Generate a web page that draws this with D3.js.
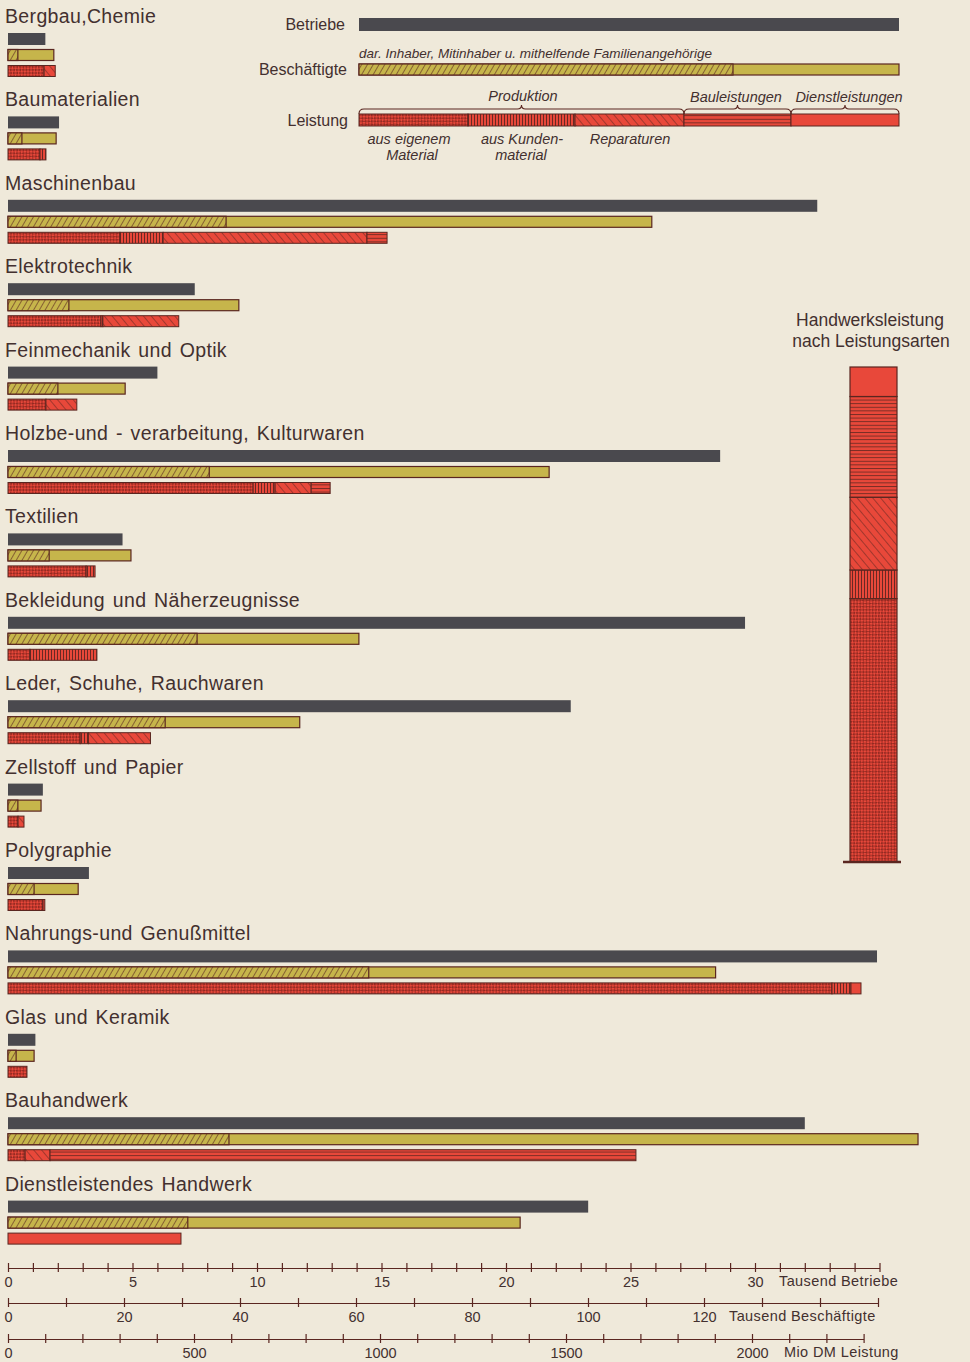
<!DOCTYPE html>
<html><head><meta charset="utf-8">
<script src="https://cdn.jsdelivr.net/npm/d3@7"></script>
<style>
html,body{margin:0;padding:0;background:#efe9da;}
svg{display:block;}
</style></head>
<body>
<svg id="chart" width="970" height="1362"></svg>
<script>
// ---------- data ----------
const categories = ["Bergbau,Chemie","Baumaterialien","Maschinenbau","Elektrotechnik","Feinmechanik und Optik",
  "Holzbe-und - verarbeitung, Kulturwaren","Textilien","Bekleidung und Näherzeugnisse","Leder, Schuhe, Rauchwaren",
  "Zellstoff und Papier","Polygraphie","Nahrungs-und Genußmittel","Glas und Keramik","Bauhandwerk","Dienstleistendes Handwerk"];
const betriebe       = [1.5, 2.05, 32.5, 7.5, 6.0, 28.6, 4.6, 29.6, 22.6, 1.4, 3.25, 34.9, 1.1, 32.0, 23.3]; // Tausend
const beschaeftigte  = [7.9, 8.3, 111, 39.8, 20.2, 93.3, 21.2, 60.5, 50.3, 5.7, 12.1, 122, 4.5, 156.9, 88.3]; // Tausend
const inhaber        = [1.7, 2.4, 37.6, 10.5, 8.6, 34.7, 7.1, 32.6, 27.1, 1.7, 4.5, 62.2, 1.4, 38.1, 31.0];
const eigenMaterial  = [97, 86, 301, 250, 102, 659, 210, 59, 194, 27, 94, 2215, 51, 46, 0];   // Mio DM
const kundenMaterial = [0, 16, 116, 5, 0, 59, 24, 180, 22, 0, 5, 51, 0, 0, 0];
const reparaturen    = [30, 0, 548, 204, 83, 97, 0, 0, 167, 16, 0, 0, 0, 67, 0];
const bauleistungen  = [0, 0, 54, 0, 0, 51, 0, 0, 0, 0, 0, 0, 0, 1575, 0];
const dienstleistungen = [0, 0, 0, 0, 0, 0, 0, 0, 0, 0, 0, 27, 0, 0, 465];
const leistungsarten = ["eigen","kunden","rep","bau","dienst"];
const betriebeTicks = d3.range(0, 36, 1), betriebeLabels = [0,5,10,15,20,25,30];
const beschTicks = d3.range(0, 151, 10), beschLabels = [0,20,40,60,80,100,120];
const leistTicks = d3.range(0, 2301, 100), leistLabels = [0,500,1000,1500,2000];

// ---------- styles ----------
const C = {bg:"#efe9da", dark:"#4a494e", olive:"#c6b54b", red:"#e8483a", line:"#5a2620", text:"#43302f"};
const FONT = "'Liberation Sans', Arial, sans-serif";

const svg = d3.select("#chart");
svg.append("rect").attr("width",970).attr("height",1362).attr("fill",C.bg);
const defs = svg.append("defs");

function pat(id, w, h, build, tr){
  const p = defs.append("pattern").attr("id",id).attr("patternUnits","userSpaceOnUse").attr("width",w).attr("height",h);
  if(tr) p.attr("patternTransform",tr);
  build(p); return `url(#${id})`;
}
const fillOliveHatch = pat("oh",5,5,p=>{
  p.append("rect").attr("width",5).attr("height",5).attr("fill",C.olive);
  p.append("line").attr("x1",0).attr("y1",0).attr("x2",0).attr("y2",5).attr("stroke",C.line).attr("stroke-width",1.2);
},"rotate(30)");
const fillCross = pat("cr",4.4,4.4,p=>{
  p.append("rect").attr("width",4.4).attr("height",4.4).attr("fill","#962a22");
  p.append("rect").attr("width",2.2).attr("height",2.2).attr("fill",C.red);
  p.append("rect").attr("x",2.2).attr("y",2.2).attr("width",2.2).attr("height",2.2).attr("fill",C.red);
},"rotate(45)");
const fillVert = pat("ve",3,4,p=>{
  p.append("rect").attr("width",3).attr("height",4).attr("fill",C.red);
  p.append("line").attr("x1",0.5).attr("y1",0).attr("x2",0.5).attr("y2",4).attr("stroke",C.line).attr("stroke-width",0.9);
});
const fillDiag = pat("di",6,6,p=>{
  p.append("rect").attr("width",6).attr("height",6).attr("fill",C.red);
  p.append("line").attr("x1",0).attr("y1",0).attr("x2",0).attr("y2",6).attr("stroke",C.line).attr("stroke-width",1);
},"rotate(-40)");
const fillHoriz = pat("ho",4,3.6,p=>{
  p.append("rect").attr("width",4).attr("height",3.6).attr("fill",C.red);
  p.append("line").attr("x1",0).attr("y1",0.5).attr("x2",4).attr("y2",0.5).attr("stroke",C.line).attr("stroke-width",0.8);
});
const segFill = {eigen:fillCross, kunden:fillVert, rep:fillDiag, bau:fillHoriz, dienst:C.red};

// ---------- scales ----------
const X0 = 8;
const xB = d3.scaleLinear().domain([0,35]).range([X0, X0+35*24.9]);
const xE = d3.scaleLinear().domain([0,150]).range([X0, X0+150*5.8]);
const xL = d3.scaleLinear().domain([0,2300]).range([X0, X0+2300*0.372]);
const yCat = d3.scaleLinear().domain([0,1]).range([17, 17+83.4]);

const rows = categories.map((c,i)=>({
  name:c, b:betriebe[i], e:beschaeftigte[i], inh:inhaber[i],
  segs:[["eigen",eigenMaterial[i]],["kunden",kundenMaterial[i]],["rep",reparaturen[i]],["bau",bauleistungen[i]],["dienst",dienstleistungen[i]]]
}));

const g = svg.append("g");
const cat = g.selectAll("g.cat").data(rows).join("g").attr("class","cat")
  .attr("transform",(d,i)=>`translate(0,${yCat(i)})`);

cat.append("text").text(d=>d.name).attr("x",5).attr("y",6).attr("font-family",FONT)
  .attr("font-size",19.5).attr("fill",C.text).attr("letter-spacing",0.35).attr("word-spacing",2);

const BH = 11;
cat.append("rect").attr("x",X0).attr("y",22-6).attr("height",12)
  .attr("width",d=>xB(d.b)-X0).attr("fill",C.dark);
cat.append("rect").attr("x",X0).attr("y",38-BH/2).attr("height",BH)
  .attr("width",d=>xE(d.e)-X0).attr("fill",C.olive).attr("stroke",C.line).attr("stroke-width",1.2);
cat.append("rect").attr("x",X0).attr("y",38-BH/2).attr("height",BH)
  .attr("width",d=>xE(d.inh)-X0).attr("fill",fillOliveHatch).attr("stroke",C.line).attr("stroke-width",1.2);
cat.each(function(d){
  const gg = d3.select(this);
  let acc = 0;
  d.segs.forEach(([k,v])=>{
    if(v<=0) return;
    gg.append("rect").attr("x",xL(acc)).attr("y",54-BH/2).attr("height",BH)
      .attr("width",xL(acc+v)-xL(acc)).attr("fill",segFill[k]).attr("stroke",C.line).attr("stroke-width",1);
    acc += v;
  });
});

// ---------- axes ----------
function drawAxis(scale, ticks, labels, y, title, titleX){
  const ax = d3.axisBottom(scale).tickValues(ticks).tickSize(0).tickPadding(9)
    .tickFormat(v=>labels.includes(v)?String(v):"");
  const a = svg.append("g").attr("transform",`translate(0,${y})`).call(ax);
  a.select(".domain").attr("stroke",C.line).attr("stroke-width",1.2);
  a.selectAll(".tick line").attr("y1",-5).attr("y2",4).attr("stroke",C.line).attr("stroke-width",1.2);
  a.selectAll(".tick text").attr("font-family",FONT).attr("font-size",14.5).attr("fill",C.text);
  svg.append("text").text(title).attr("x",titleX).attr("y",y+18).attr("font-family",FONT)
    .attr("font-size",14.5).attr("fill",C.text).attr("letter-spacing",0.4);
}
drawAxis(xB, betriebeTicks, betriebeLabels, 1268, "Tausend Betriebe", 779);
drawAxis(xE, beschTicks, beschLabels, 1303, "Tausend Beschäftigte", 729);
drawAxis(xL, leistTicks, leistLabels, 1339, "Mio DM Leistung", 784);

// ---------- legend ----------
const lg = svg.append("g");
const LX0 = 359, LX1 = 899;
const lt = (t,x,y,opt={})=>lg.append("text").text(t).attr("x",x).attr("y",y).attr("font-family",FONT)
  .attr("font-size",opt.size||16).attr("fill",C.text).attr("text-anchor",opt.anchor||"start")
  .attr("font-style",opt.italic?"italic":"normal");
lt("Betriebe",345,30,{anchor:"end"});
lg.append("rect").attr("x",LX0).attr("y",18).attr("width",LX1-LX0).attr("height",13).attr("fill",C.dark);
lt("dar. Inhaber, Mitinhaber u. mithelfende Familienangehörige",LX0,58,{italic:true,size:13.5});
lt("Beschäftigte",347,75,{anchor:"end"});
lg.append("rect").attr("x",LX0).attr("y",64).attr("width",LX1-LX0).attr("height",11).attr("fill",C.olive).attr("stroke",C.line).attr("stroke-width",1.2);
lg.append("rect").attr("x",LX0).attr("y",64).attr("width",733-LX0).attr("height",11).attr("fill",fillOliveHatch).attr("stroke",C.line).attr("stroke-width",1.2);
lt("Leistung",348,126,{anchor:"end"});
const legSegs = [["eigen",359,468],["kunden",468,575],["rep",575,684],["bau",684,791],["dienst",791,899]];
legSegs.forEach(([k,a,b])=>lg.append("rect").attr("x",a).attr("y",114).attr("width",b-a).attr("height",12)
  .attr("fill",segFill[k]).attr("stroke",C.line).attr("stroke-width",1));
function brace(x1,x2,y){
  const m=(x1+x2)/2;
  lg.append("path").attr("d",`M${x1},${y+5} Q${x1},${y} ${x1+5},${y} L${m-4},${y} Q${m},${y} ${m},${y-4} Q${m},${y} ${m+4},${y} L${x2-5},${y} Q${x2},${y} ${x2},${y+5}`)
    .attr("fill","none").attr("stroke",C.line).attr("stroke-width",1.1);
}
brace(359,684,109); brace(684,791,109); brace(791,899,109);
lt("Produktion",523,101,{anchor:"middle",italic:true,size:14.5});
lt("Bauleistungen",736,102,{anchor:"middle",italic:true,size:14.5});
lt("Dienstleistungen",849,102,{anchor:"middle",italic:true,size:14.5});
lt("aus eigenem",409,144,{anchor:"middle",italic:true,size:14.5});
lt("Material",412,160,{anchor:"middle",italic:true,size:14.5});
lt("aus Kunden-",522,144,{anchor:"middle",italic:true,size:14.5});
lt("material",521,160,{anchor:"middle",italic:true,size:14.5});
lt("Reparaturen",630,144,{anchor:"middle",italic:true,size:14.5});

// ---------- column: Handwerksleistung nach Leistungsarten ----------
const totals = {
  eigen:d3.sum(eigenMaterial), kunden:d3.sum(kundenMaterial), rep:d3.sum(reparaturen),
  bau:d3.sum(bauleistungen), dienst:d3.sum(dienstleistungen)
};
const grand = d3.sum(leistungsarten, k=>totals[k]);
const yCol = d3.scaleLinear().domain([0,grand]).range([862,367]);
const cg = svg.append("g");
let acc = 0;
leistungsarten.forEach(k=>{
  cg.append("rect").attr("x",850).attr("width",47).attr("y",yCol(acc+totals[k])).attr("height",yCol(acc)-yCol(acc+totals[k]))
    .attr("fill",segFill[k]).attr("stroke",C.line).attr("stroke-width",1.2);
  acc += totals[k];
});
cg.append("line").attr("x1",843).attr("x2",901).attr("y1",862).attr("y2",862).attr("stroke",C.line).attr("stroke-width",2.5);
lt("Handwerksleistung",870,326,{anchor:"middle",size:17.5});
lt("nach Leistungsarten",871,347,{anchor:"middle",size:17.5});
</script>
</body></html>
